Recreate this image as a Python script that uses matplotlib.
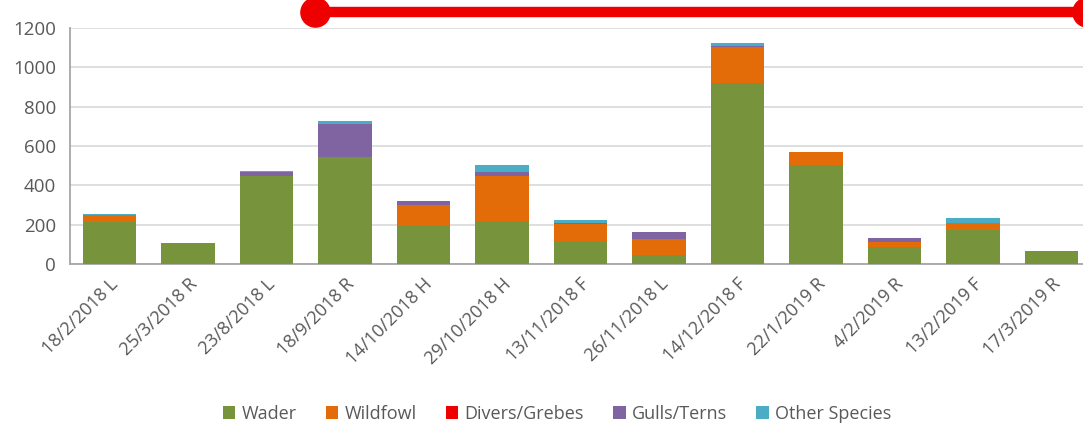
import matplotlib
matplotlib.use("Agg")
import matplotlib.pyplot as plt
import numpy as np

# Survey dates (with site code) and counts per species group
dates = ["18/2/2018 L", "25/3/2018 R", "23/8/2018 L", "18/9/2018 R", "14/10/2018 H",
         "29/10/2018 H", "13/11/2018 F", "26/11/2018 L", "14/12/2018 F", "22/1/2019 R",
         "4/2/2019 R", "13/2/2019 F", "17/3/2019 R"]
wader = [215, 105, 449, 545, 195, 220, 110, 45, 920, 503, 85, 173, 68]
wildfowl = [33, 0, 0, 0, 105, 229, 93, 82, 185, 66, 25, 33, 0]
divers_grebes = [0, 0, 0, 0, 0, 0, 0, 0, 0, 0, 0, 0, 0]
gulls_terns = [3, 0, 18, 168, 18, 17, 7, 34, 5, 0, 20, 5, 0]
other_species = [2, 0, 4, 15, 0, 36, 15, 0, 15, 3, 0, 22, 0]

series_names = ["Wader", "Wildfowl", "Divers/Grebes", "Gulls/Terns", "Other Species"]
series_values = [wader, wildfowl, divers_grebes, gulls_terns, other_species]
colors = ["#77933C", "#E36C09", "#EE0000", "#8064A2", "#4BACC6"]

# Highlight bar drawn above the plot area (x in category units, y in count units)
marker_span_x = [2.62, 12.45]
marker_span_y = [1280, 1280]

fig = plt.figure(figsize=(10.83, 4.28), dpi=100)
ax = fig.add_axes([70 / 1083, 164 / 428, 1021 / 1083, 236 / 428])

x = np.arange(len(dates))
bottom = np.zeros(len(dates))
for name, vals, col in zip(series_names, series_values, colors):
    vals = np.array(vals, dtype=float)
    ax.bar(x, vals, width=0.68, bottom=bottom, color=col, label=name, zorder=3)
    bottom += vals

ax.set_xlim(-0.5, len(dates) - 0.5)
ax.set_ylim(0, 1200)
ax.set_yticks(np.arange(0, 1201, 200))
ax.yaxis.grid(True, color="#d9d9d9", linewidth=1.2, zorder=0)
ax.set_axisbelow(True)

for s in ["top", "right"]:
    ax.spines[s].set_visible(False)
for s in ["left", "bottom"]:
    ax.spines[s].set_color("#a6a6a6")
    ax.spines[s].set_linewidth(1.3)

ax.tick_params(axis="both", length=0, colors="#595959", labelsize=13.5)
ax.tick_params(axis="y", pad=10)
ax.set_xticks(x)
ax.set_xticklabels(dates, rotation=45, ha="right", rotation_mode="anchor",
                   fontsize=13, color="#595959", fontfamily="Open Sans")
for lab in ax.get_yticklabels():
    lab.set_fontfamily("Open Sans")
ax.tick_params(axis="x", pad=8)

ax.plot(marker_span_x, marker_span_y, color="#EE0000", linewidth=7.5,
        marker="o", markersize=21, solid_capstyle="butt", clip_on=False, zorder=5)

leg = fig.legend(loc="center", bbox_to_anchor=(557 / 1083, 14 / 428), ncol=5,
                 frameon=False, handlelength=0.7, handleheight=0.7, handletextpad=0.35,
                 columnspacing=1.6, prop={"family": "Open Sans", "size": 13})
for t in leg.get_texts():
    t.set_color("#595959")

fig.savefig("out.png", dpi=100)
